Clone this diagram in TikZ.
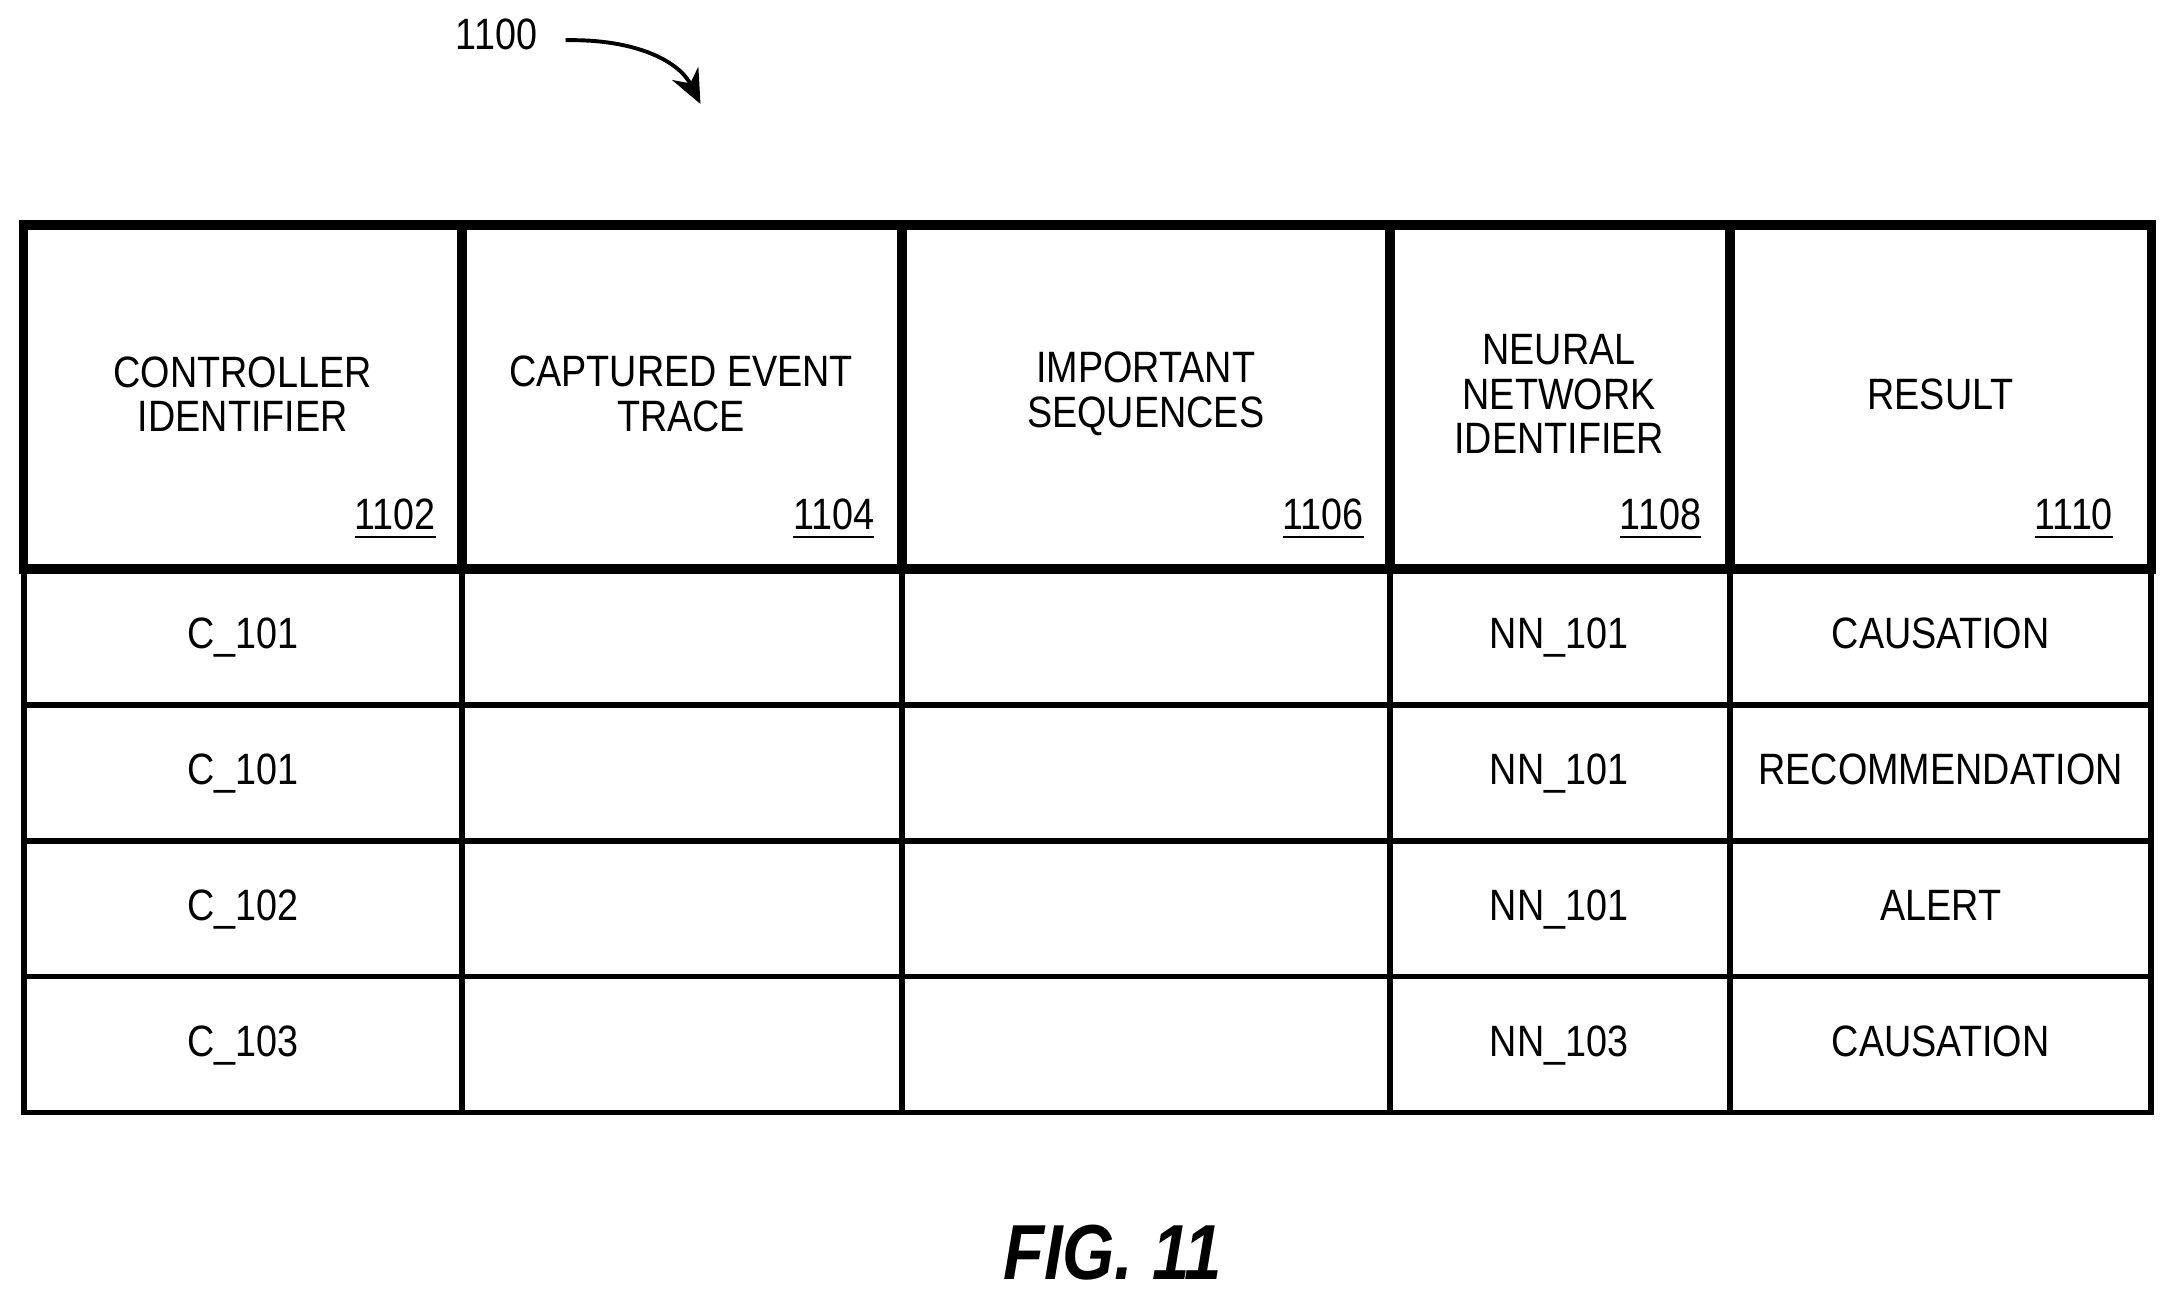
\documentclass[tikz,border=0pt]{standalone}
\usepackage{fontspec}
\setmainfont[FakeStretch=0.86]{Liberation Sans}
\usetikzlibrary{arrows.meta}
\begin{document}
\begin{tikzpicture}[x=0.01cm,y=-0.01cm,
  hdr/.style={align=center,font=\fontsize{9}{9.1}\selectfont},
  num/.style={anchor=base east,inner sep=0pt,font=\fontsize{9}{10.2}\selectfont},
  cell/.style={text height=7pt,text depth=2pt,font=\fontsize{9}{10.2}\selectfont}]
\useasboundingbox (0,0) rectangle (1568,937);

\node[cell] (ref) at (358,27) {1100};
\coordinate (refend) at (505,75);
\draw[-{Stealth[length=7pt,width=6pt]},line width=0.8pt] (ref.east) ++(8,2) .. controls (460,28) and (490,45) .. (refend);

% table rows
\draw[line width=1.2pt] (17,410) rectangle (1551,802);
\foreach \y in {508,606,704}{
	\draw[line width=1.2pt] (17,\y) -- (1551,\y);
}
\foreach \x in {333,650,1002,1247}{
	\draw[line width=1.2pt] (\x,410) -- (\x,802);
}
% header
\draw[line width=2pt] (17,162) rectangle (1551,410);
\foreach \x in {333,650,1002,1247}{
	\draw[line width=2pt] (\x,162) -- (\x,410);
}

\node[hdr] (h1) at (175,284) {CONTROLLER\\IDENTIFIER};
\node[hdr] (h2) at (491,284) {CAPTURED EVENT\\TRACE};
\node[hdr] (h3) at (826,284) {IMPORTANT\\SEQUENCES};
\node[hdr] (h4) at (1124,284) {NEURAL\\NETWORK\\IDENTIFIER};
\node[hdr] (h5) at (1399,284) {RESULT};

\node[num] (n1) at (315,382) {\underline{1102}};
\node[num] (n2) at (631,382) {\underline{1104}};
\node[num] (n3) at (984,382) {\underline{1106}};
\node[num] (n4) at (1227,382) {\underline{1108}};
\node[num] (n5) at (1524,382) {\underline{1110}};

\foreach \y/\c/\n/\r [count=\k] in {459/C\_101/NN\_101/CAUSATION,
	557/C\_101/NN\_101/RECOMMENDATION,
	655/C\_102/NN\_101/ALERT,
	753/C\_103/NN\_103/CAUSATION}{
	\node[cell] (c\k) at (175,\y) {\c};
	\node[cell] (nn\k) at (1124,\y) {\n};
	\node[cell] (r\k) at (1399,\y) {\r};
}

\node[font=\bfseries\itshape\fontsize{16}{19}\selectfont] (fig) at (802,903) {FIG. 11};
\end{tikzpicture}
\end{document}
